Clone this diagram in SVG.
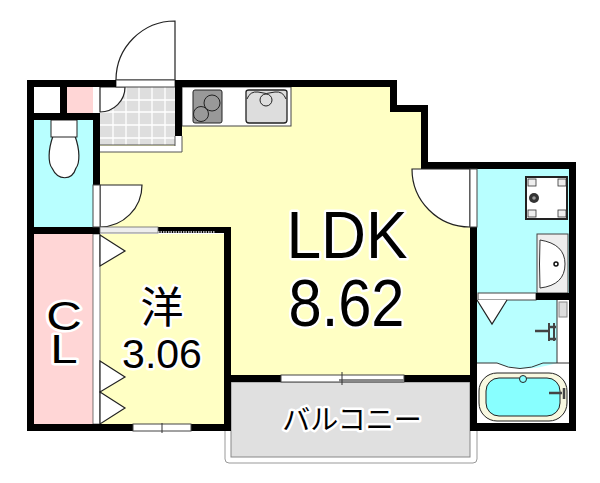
<svg xmlns="http://www.w3.org/2000/svg" width="600" height="483" viewBox="0 0 600 483">
<style>
.w{fill:#000}
.l{fill:none;stroke:#222;stroke-width:1.2}
.s{fill:#fff;stroke:#444;stroke-width:1}
.d{fill:#fff;stroke:#222;stroke-width:1.2}
.t{font-family:"Liberation Sans","Noto Sans CJK JP",sans-serif;fill:#000;stroke:#fff;stroke-width:5;paint-order:stroke;stroke-linejoin:round;text-anchor:middle}
</style>
<rect width="600" height="483" fill="#fff"/>
<g id="floors">
<path d="M100 87H390V112H428V169H470V375H231V227H100Z" fill="#ffffc4"/>
<path d="M34 120H93V227H34Z" fill="#b8ffff"/>
<path d="M34 234H93V424H34Z" fill="#ffd6d6"/>
<rect x="67" y="87" width="26" height="26" fill="#ffd6d6"/>
<rect x="100" y="234" width="124" height="190" fill="#ffffc4"/>
<path d="M477 169H569V293H477Z" fill="#b8ffff"/>
<path d="M477 300H557V363Q520 374 497 363H477Z" fill="#b8ffff"/>
</g>
<g id="balcony">
<path d="M225 431V459Q225 463 229 463H473Q477 463 477 459V431" fill="#fff" stroke="#999" stroke-width="1"/>
<rect x="231" y="382" width="239" height="75" fill="#e0e0e0" stroke="#888" stroke-width="1"/>
</g>
<g id="entry">
<rect x="100" y="87" width="75" height="58" fill="#dedede"/>
<path d="M113 87V145M126 87V145M139 87V145M152 87V145M165 87V145M100 100H175M100 112H175M100 125H175M100 138H175" stroke="#fff" stroke-width="1.3" fill="none"/>
<path d="M175 136H182V152H100V146H175Z" fill="#fff"/>
<path d="M175 146V136M182 136V152H100M100 145H175" stroke="#555" fill="none"/>
<path d="M100 112A25 25 0 0 0 125 87H100Z" class="d"/>
<path d="M116 80A59 59 0 0 1 175 21V80Z" class="d"/>
<rect x="116" y="80" width="59" height="7" class="s"/>
</g>
<g id="kitchen">
<rect x="182" y="87" width="109" height="39" fill="#fff" stroke="#444"/>
<rect x="193" y="90" width="29" height="33" rx="2" fill="#999" stroke="#222"/>
<circle cx="212" cy="103" r="8" fill="#999" stroke="#222"/>
<circle cx="201" cy="114" r="7.5" fill="#999" stroke="#222"/>
<path d="M246 92Q246 90 249 90H284Q287 90 287 92V120Q287 123 284 123H249Q246 123 246 120Z" fill="#ddd" stroke="#222" stroke-width="1.3"/>
<path d="M247 99Q250 91 258 92Q266 95 275 92Q283 91 286 99" fill="none" stroke="#222"/>
<circle cx="266" cy="100" r="6" fill="#ddd" stroke="#222"/>
</g>
<g id="toilet">
<path d="M53 136C48 150 48 163 52 168C58 181 72 181 76 168C80 163 80 150 75 136Z" fill="#fff" stroke="#222" stroke-width="1.2"/>
<rect x="51" y="120" width="26" height="17" fill="#fff" stroke="#222"/>
</g>
<g id="closet">
<rect x="93" y="234" width="7" height="190" fill="#fff" stroke="#555" stroke-width=".8"/>
<path d="M100 235L125 251L100 266Z" class="d"/>
<path d="M100 361L125 377L100 392Z" class="d"/>
<path d="M100 392L125 408L100 424Z" class="d"/>
</g>
<g id="lav">
<rect x="526" y="177" width="41" height="42" fill="#fff" stroke="#222" stroke-width="2"/>
<rect x="528" y="179" width="8" height="7" fill="#eee" stroke="#333" stroke-width=".8"/>
<rect x="558" y="179" width="8" height="7" fill="#eee" stroke="#333" stroke-width=".8"/>
<rect x="528" y="210" width="8" height="7" fill="#eee" stroke="#333" stroke-width=".8"/>
<rect x="558" y="210" width="8" height="7" fill="#eee" stroke="#333" stroke-width=".8"/>
<circle cx="534" cy="198" r="5" fill="#333"/>
<circle cx="534" cy="198" r="1.8" fill="#999"/>
<rect x="537" y="234" width="31" height="59" fill="#eee" stroke="#444"/>
<path d="M540 240Q565 244 565 264Q565 285 540 288Q539 264 540 240Z" fill="#fff" stroke="#333"/>
<circle cx="556" cy="264" r="2" fill="#fff" stroke="#111" stroke-width="1.5"/>
<rect x="478" y="293" width="58" height="7" class="s"/>
</g>
<g id="bath">
<path d="M557 300H569V363H557Z" fill="#fff"/>
<path d="M477 363H497Q520 374 543 363H569" fill="none" stroke="#333"/>
<path d="M557 300V363" stroke="#333"/>
<rect x="559" y="302" width="8" height="15" fill="#ddd" stroke="#888"/>
<path d="M477 300L492 324L507 300" class="d"/>
<path d="M535 331H548M548 327H556M548 339H556" stroke="#444" stroke-width="2.5" fill="none"/>
<path d="M549 323V341M554 323V341" stroke="#444" stroke-width="2"/>
<rect x="479" y="373" width="88" height="48" rx="18" fill="#f8f8e0" stroke="#222"/>
<rect x="486" y="378" width="74" height="38" rx="13" fill="#88ffff" stroke="#222"/>
<circle cx="523" cy="379" r="3.5" fill="#88ffff" stroke="#222"/>
<path d="M549 393H562M564 388V399" stroke="#444" stroke-width="2.5" fill="none"/>
</g>
<g id="walls" class="w">
<rect x="27" y="80" width="7" height="351"/>
<rect x="27" y="80" width="89" height="7"/>
<rect x="175" y="80" width="215" height="7"/>
<rect x="60" y="87" width="7" height="26"/>
<rect x="27" y="113" width="73" height="7"/>
<rect x="93" y="113" width="7" height="72"/>
<rect x="175" y="87" width="7" height="49"/>
<rect x="27" y="227" width="73" height="7"/>
<rect x="158" y="227" width="73" height="6"/>
<rect x="224" y="227" width="7" height="204"/>
<rect x="27" y="424" width="204" height="7"/>
<path d="M385 80H397V105H428V162H576V169H421V112H390V87H385Z"/>
<rect x="569" y="162" width="7" height="269"/>
<rect x="470" y="227" width="7" height="204"/>
<rect x="536" y="293" width="40" height="7"/>
<rect x="470" y="423" width="106" height="8"/>
<rect x="224" y="375" width="253" height="7"/>
</g>
<g id="openings">
<path d="M100 185H142A42 42 0 0 1 100 227Z" class="d"/>
<rect x="93" y="185" width="7" height="42" class="s"/>
<rect x="100" y="227" width="58" height="6" fill="#eee" stroke="#666" stroke-width=".8"/>
<path d="M158 232H215" stroke="#aaa" stroke-width="2" stroke-dasharray="1.5 1"/>
<path d="M412 169H470V227A58 58 0 0 1 412 169Z" class="d"/>
<rect x="470" y="169" width="7" height="58" class="s"/>
<rect x="133" y="424" width="58" height="7" class="s"/>
<path d="M162 423V433" stroke="#333"/>
<rect x="281" y="375" width="123" height="7" class="s"/>
<rect x="339" y="379" width="65" height="3" fill="#888"/>
<path d="M342 372V385" stroke="#333"/>
</g>
<g id="labels">
<text class="t" transform="translate(347 258) scale(.93 1)" font-size="67">LDK</text>
<text class="t" transform="translate(346.500 326) scale(.89 1)" font-size="67">8.62</text>
<text class="t" x="162" y="323" font-size="43">洋</text>
<text class="t" x="162" y="368" font-size="41">3.06</text>
<text class="t" transform="translate(64 0) scale(1.2 1)" font-size="41"><tspan x="0" y="330">C</tspan><tspan x="0" y="363">L</tspan></text>
<text class="t" x="352" y="430" font-size="28">バルコニー</text>
</g>
</svg>
